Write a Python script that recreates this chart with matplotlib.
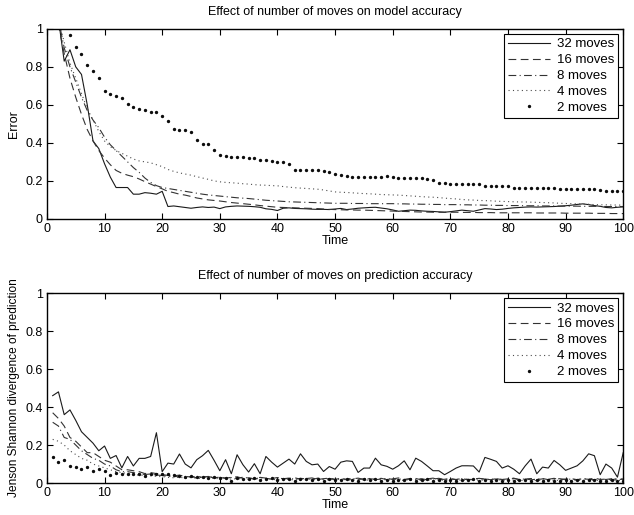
import matplotlib
matplotlib.use("Agg")
import matplotlib.pyplot as plt

plt.rcParams['font.family'] = ['Liberation Sans', 'DejaVu Sans']
plt.rcParams['font.size'] = 9

time = list(range(1, 101))
labels = ["32 moves", "16 moves", "8 moves", "4 moves", "2 moves"]
yticks = [0, 0.2, 0.4, 0.6, 0.8, 1]
yticklabels = ["0", "0.2", "0.4", "0.6", "0.8", "1"]
xticks = [0, 10, 20, 30, 40, 50, 60, 70, 80, 90, 100]

# model error
err32 = [
    1.25, 1.05, 0.83, 0.89, 0.80, 0.76, 0.60, 0.41, 0.37, 0.29,
    0.22, 0.165, 0.165, 0.165, 0.13, 0.13, 0.138, 0.135, 0.13, 0.145,
    0.065, 0.068, 0.064, 0.06, 0.056, 0.06, 0.063, 0.06, 0.062, 0.054,
    0.063, 0.066, 0.068, 0.067, 0.066, 0.064, 0.061, 0.053, 0.05, 0.044,
    0.056, 0.058, 0.055, 0.054, 0.053, 0.051, 0.05, 0.05, 0.049, 0.052,
    0.055, 0.049, 0.052, 0.056, 0.058, 0.06, 0.061, 0.057, 0.053, 0.047,
    0.04, 0.043, 0.046, 0.045, 0.042, 0.04, 0.039, 0.037, 0.035, 0.038,
    0.042, 0.046, 0.043, 0.04, 0.047, 0.054, 0.052, 0.049, 0.051, 0.055,
    0.058, 0.06, 0.062, 0.063, 0.062, 0.063, 0.064, 0.065, 0.067, 0.069,
    0.072, 0.076, 0.079, 0.075, 0.07, 0.066, 0.06, 0.058, 0.061, 0.063]
err16 = [
    1.2, 1.02, 0.87, 0.74, 0.64, 0.55, 0.47, 0.41, 0.36, 0.32,
    0.285, 0.255, 0.24, 0.23, 0.222, 0.21, 0.196, 0.183, 0.17, 0.158,
    0.145, 0.138, 0.13, 0.125, 0.118, 0.11, 0.105, 0.1, 0.097, 0.094,
    0.09, 0.086, 0.083, 0.08, 0.077, 0.074, 0.07, 0.067, 0.064, 0.061,
    0.06, 0.059, 0.058, 0.057, 0.056, 0.055, 0.054, 0.052, 0.05, 0.049,
    0.048, 0.047, 0.047, 0.046, 0.046, 0.045, 0.044, 0.043, 0.042, 0.041,
    0.04, 0.039, 0.038, 0.037, 0.036, 0.036, 0.035, 0.035, 0.035, 0.035,
    0.035, 0.034, 0.034, 0.034, 0.033, 0.033, 0.033, 0.032, 0.032, 0.032,
    0.032, 0.032, 0.032, 0.032, 0.031, 0.031, 0.031, 0.031, 0.031, 0.03,
    0.03, 0.03, 0.03, 0.03, 0.029, 0.029, 0.029, 0.028, 0.028, 0.028]
err8 = [
    1.2, 1.05, 0.9, 0.8, 0.72, 0.64, 0.57, 0.52, 0.48, 0.43,
    0.39, 0.36, 0.33, 0.3, 0.27, 0.245, 0.215, 0.192, 0.175, 0.165,
    0.16, 0.155, 0.15, 0.145, 0.14, 0.135, 0.13, 0.126, 0.123, 0.12,
    0.117, 0.114, 0.111, 0.109, 0.107, 0.104, 0.101, 0.098, 0.096, 0.094,
    0.092, 0.09, 0.089, 0.088, 0.087, 0.086, 0.085, 0.084, 0.083, 0.082,
    0.082, 0.082, 0.081, 0.081, 0.081, 0.08, 0.08, 0.08, 0.08, 0.08,
    0.079, 0.079, 0.078, 0.078, 0.077, 0.077, 0.076, 0.076, 0.075, 0.075,
    0.075, 0.074, 0.074, 0.073, 0.073, 0.072, 0.072, 0.071, 0.071, 0.07,
    0.07, 0.07, 0.069, 0.069, 0.069, 0.068, 0.068, 0.068, 0.067, 0.067,
    0.067, 0.067, 0.066, 0.066, 0.066, 0.066, 0.065, 0.065, 0.065, 0.065]
err4 = [
    1.2, 1.05, 0.93, 0.82, 0.74, 0.66, 0.58, 0.52, 0.46, 0.41,
    0.38, 0.36, 0.345, 0.33, 0.315, 0.305, 0.3, 0.295, 0.285, 0.275,
    0.26, 0.25, 0.242, 0.236, 0.23, 0.222, 0.215, 0.208, 0.2, 0.195,
    0.192, 0.19, 0.188, 0.185, 0.183, 0.18, 0.178, 0.177, 0.175, 0.174,
    0.17, 0.167, 0.164, 0.162, 0.16, 0.158, 0.156, 0.152, 0.147, 0.142,
    0.14, 0.139, 0.137, 0.135, 0.133, 0.132, 0.13, 0.128, 0.127, 0.126,
    0.125, 0.123, 0.121, 0.119, 0.117, 0.115, 0.114, 0.112, 0.109, 0.107,
    0.105, 0.102, 0.1, 0.099, 0.097, 0.096, 0.095, 0.093, 0.092, 0.091,
    0.09, 0.089, 0.089, 0.088, 0.087, 0.086, 0.085, 0.084, 0.082, 0.081,
    0.08, 0.079, 0.078, 0.077, 0.075, 0.074, 0.074, 0.073, 0.073, 0.072]
err2 = [
    1.2, 1.1, 1.03, 0.97, 0.905, 0.865, 0.81, 0.78, 0.74, 0.675,
    0.655, 0.645, 0.635, 0.605, 0.59, 0.58, 0.572, 0.563, 0.563, 0.54,
    0.516, 0.472, 0.47, 0.467, 0.456, 0.414, 0.395, 0.393, 0.365, 0.338,
    0.33, 0.325, 0.325, 0.324, 0.322, 0.32, 0.312, 0.31, 0.305, 0.3,
    0.3, 0.289, 0.258, 0.258, 0.257, 0.256, 0.255, 0.252, 0.248, 0.238,
    0.233, 0.225, 0.222, 0.22, 0.219, 0.219, 0.218, 0.218, 0.225, 0.22,
    0.216, 0.215, 0.215, 0.214, 0.213, 0.212, 0.203, 0.19, 0.187, 0.186,
    0.186, 0.186, 0.186, 0.185, 0.185, 0.175, 0.175, 0.174, 0.174, 0.174,
    0.163, 0.163, 0.163, 0.162, 0.162, 0.162, 0.162, 0.162, 0.158, 0.158,
    0.158, 0.157, 0.157, 0.157, 0.157, 0.151, 0.149, 0.148, 0.146, 0.145]

# prediction divergence
js32 = [
    0.46, 0.48, 0.36, 0.385, 0.33, 0.27, 0.24, 0.21, 0.17, 0.195,
    0.13, 0.145, 0.08, 0.14, 0.09, 0.13, 0.13, 0.14, 0.265, 0.06,
    0.105, 0.10, 0.153, 0.10, 0.08, 0.123, 0.144, 0.172, 0.12, 0.065,
    0.123, 0.049, 0.149, 0.097, 0.058, 0.102, 0.049, 0.14, 0.11, 0.084,
    0.105, 0.126, 0.1, 0.154, 0.114, 0.096, 0.1, 0.061, 0.087, 0.073,
    0.11, 0.117, 0.114, 0.056, 0.079, 0.079, 0.131, 0.096, 0.088, 0.073,
    0.091, 0.117, 0.07, 0.131, 0.114, 0.09, 0.065, 0.065, 0.044, 0.061,
    0.079, 0.091, 0.091, 0.09, 0.058, 0.135, 0.125, 0.114, 0.079, 0.091,
    0.073, 0.049, 0.091, 0.126, 0.049, 0.084, 0.079, 0.119, 0.096, 0.067,
    0.079, 0.091, 0.117, 0.154, 0.144, 0.044, 0.1, 0.079, 0.031, 0.16]
js16 = [
    0.37, 0.34, 0.30, 0.24, 0.22, 0.19, 0.16, 0.16, 0.14, 0.12,
    0.11, 0.09, 0.07, 0.07, 0.065, 0.06, 0.05, 0.055, 0.05, 0.045,
    0.04, 0.038, 0.042, 0.035, 0.032, 0.036, 0.03, 0.034, 0.028, 0.031,
    0.026, 0.03, 0.033, 0.025, 0.028, 0.022, 0.03, 0.026, 0.024, 0.029,
    0.021, 0.025, 0.028, 0.02, 0.024, 0.027, 0.019, 0.023, 0.026, 0.02,
    0.024, 0.018, 0.022, 0.026, 0.019, 0.023, 0.02, 0.025, 0.018, 0.022,
    0.027, 0.019, 0.021, 0.024, 0.017, 0.022, 0.026, 0.018, 0.02, 0.023,
    0.019, 0.024, 0.017, 0.021, 0.025, 0.02, 0.018, 0.023, 0.019, 0.022,
    0.026, 0.017, 0.021, 0.024, 0.018, 0.022, 0.02, 0.025, 0.017, 0.021,
    0.023, 0.018, 0.022, 0.02, 0.026, 0.019, 0.021, 0.017, 0.024, 0.02]
js8 = [
    0.32, 0.3, 0.24, 0.23, 0.2, 0.17, 0.15, 0.13, 0.12, 0.1,
    0.09, 0.07, 0.06, 0.06, 0.055, 0.05, 0.045, 0.048, 0.042, 0.04,
    0.036, 0.033, 0.037, 0.03, 0.034, 0.028, 0.031, 0.035, 0.027, 0.03,
    0.025, 0.029, 0.024, 0.031, 0.026, 0.022, 0.028, 0.025, 0.021, 0.027,
    0.023, 0.026, 0.02, 0.025, 0.022, 0.019, 0.026, 0.021, 0.024, 0.018,
    0.023, 0.02, 0.025, 0.019, 0.022, 0.024, 0.018, 0.021, 0.025, 0.019,
    0.022, 0.018, 0.024, 0.02, 0.023, 0.017, 0.021, 0.025, 0.019, 0.022,
    0.018, 0.023, 0.02, 0.017, 0.024, 0.021, 0.019, 0.023, 0.018, 0.021,
    0.024, 0.019, 0.022, 0.017, 0.021, 0.024, 0.018, 0.02, 0.023, 0.019,
    0.021, 0.017, 0.024, 0.02, 0.018, 0.022, 0.019, 0.023, 0.018, 0.021]
js4 = [
    0.23, 0.22, 0.2, 0.17, 0.15, 0.13, 0.12, 0.1, 0.09, 0.08,
    0.07, 0.06, 0.055, 0.05, 0.045, 0.042, 0.04, 0.038, 0.035, 0.034,
    0.03, 0.028, 0.031, 0.026, 0.029, 0.024, 0.027, 0.023, 0.026, 0.022,
    0.025, 0.02, 0.023, 0.021, 0.019, 0.024, 0.018, 0.022, 0.02, 0.017,
    0.021, 0.019, 0.016, 0.02, 0.018, 0.021, 0.015, 0.019, 0.017, 0.02,
    0.016, 0.018, 0.015, 0.019, 0.017, 0.014, 0.018, 0.016, 0.019, 0.015,
    0.017, 0.014, 0.018, 0.016, 0.013, 0.017, 0.015, 0.018, 0.014, 0.016,
    0.013, 0.017, 0.015, 0.018, 0.014, 0.016, 0.013, 0.015, 0.017, 0.014,
    0.016, 0.013, 0.015, 0.017, 0.012, 0.015, 0.014, 0.016, 0.013, 0.015,
    0.012, 0.014, 0.016, 0.013, 0.015, 0.012, 0.014, 0.013, 0.015, 0.012]
js2 = [
    0.135, 0.109, 0.119, 0.091, 0.082, 0.074, 0.084, 0.061, 0.074, 0.061,
    0.04, 0.053, 0.047, 0.047, 0.047, 0.049, 0.035, 0.047, 0.047, 0.049,
    0.047, 0.04, 0.038, 0.033, 0.036, 0.03, 0.034, 0.028, 0.031, 0.025,
    0.029, 0.013, 0.027, 0.024, 0.02, 0.026, 0.018, 0.022, 0.025, 0.016,
    0.021, 0.019, 0.012, 0.02, 0.023, 0.015, 0.019, 0.011, 0.021, 0.017,
    0.014, 0.02, 0.016, 0.012, 0.019, 0.015, 0.021, 0.013, 0.017, 0.01,
    0.018, 0.014, 0.02, 0.012, 0.016, 0.019, 0.011, 0.015, 0.013, 0.018,
    0.01, 0.016, 0.014, 0.019, 0.012, 0.015, 0.011, 0.017, 0.013, 0.016,
    0.01, 0.014, 0.018, 0.012, 0.015, 0.011, 0.016, 0.013, 0.01, 0.017,
    0.012, 0.015, 0.011, 0.014, 0.016, 0.01, 0.013, 0.015, 0.011, 0.012]


def panel(ax, series, title, ylabel, ylabel_size=9):
    s32, s16, s8, s4, s2 = series
    ax.plot(time, s32, '-', color='0.1', lw=0.8, label=labels[0])
    ax.plot(time, s16, '--', color='0.2', lw=0.8, dashes=(7, 4), label=labels[1])
    ax.plot(time, s8, '-.', color='0.2', lw=0.8, dashes=(7, 3, 1, 3), label=labels[2])
    ax.plot(time, s4, ':', color='0.3', lw=0.8, dashes=(1, 3), label=labels[3])
    ax.plot(time, s2, '.', color='0.05', ms=2.8, label=labels[4])
    ax.set_xlim(0, 100)
    ax.set_ylim(0, 1)
    ax.set_xticks(xticks)
    ax.set_yticks(yticks)
    ax.set_yticklabels(yticklabels)
    ax.tick_params(direction='in', top=True, right=True, length=4, width=0.8, pad=3)
    for sp in ax.spines.values():
        sp.set_linewidth(1.0)
    ax.set_title(title, fontsize=9, pad=10)
    ax.set_xlabel("Time", labelpad=0)
    ax.set_ylabel(ylabel, labelpad=4, fontsize=ylabel_size)
    leg = ax.legend(loc='upper right', fancybox=False, edgecolor='black',
                    framealpha=1, handlelength=3.2, handletextpad=0.5,
                    borderpad=0.3, labelspacing=0.28, borderaxespad=0.4,
                    fontsize=9.5)
    leg.get_frame().set_linewidth(0.8)


fig = plt.figure(figsize=(6.34, 5.15), dpi=100)
ax1 = fig.add_axes([0.074, 0.575, 0.909, 0.369])
ax2 = fig.add_axes([0.074, 0.062, 0.909, 0.369])

panel(ax1, [err32, err16, err8, err4, err2],
      "Effect of number of moves on model accuracy", "Error")
panel(ax2, [js32, js16, js8, js4, js2],
      "Effect of number of moves on prediction accuracy",
      "Jenson Shannon divergence of prediction", ylabel_size=8.6)

fig.savefig("out.png", dpi=100)
plt.close()
